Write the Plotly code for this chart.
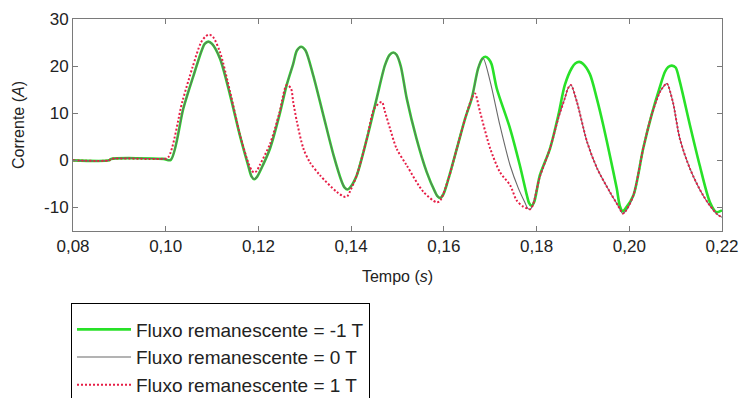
import plotly.graph_objects as go

# ---- data ----
t_green = [0.080, 0.0878, 0.0882, 0.0995, 0.1011,
           0.1038, 0.1060, 0.1078, 0.1084, 0.1092, 0.1100,
           0.1117, 0.1139, 0.1160, 0.1178, 0.1185, 0.1191, 0.1197,
           0.1205, 0.1225, 0.1245, 0.1261, 0.1275, 0.1283, 0.1292, 0.1301,
           0.1318, 0.1340, 0.1362, 0.1380, 0.1386, 0.1392, 0.1399,
           0.1412, 0.1434, 0.1455, 0.1473, 0.1483, 0.1491, 0.1498,
           0.1507, 0.1520, 0.1541, 0.1563, 0.1581, 0.1586, 0.1592, 0.1599,
           0.1610, 0.1628, 0.1646, 0.1660, 0.1674, 0.1683, 0.1690, 0.1697,
           0.1703, 0.1714, 0.1743, 0.1764, 0.1779, 0.1784, 0.1789, 0.1795,
           0.1807, 0.1829, 0.1847, 0.1861, 0.1876, 0.1884, 0.1892, 0.1900,
           0.1915, 0.1930, 0.1944, 0.1958, 0.1973, 0.1980, 0.1986, 0.1992,
           0.2009, 0.2030, 0.2048, 0.2066, 0.2077, 0.2084, 0.2092, 0.2100,
           0.2109, 0.2131, 0.2152, 0.2174, 0.2188, 0.2200]
i_green = [0, 0, 0.3, 0.3, 0.1,
           11.0, 18.0, 23.4, 24.7, 25.2, 24.7,
           21.6, 13.8, 5.3, -1.1, -3.4, -4.0, -3.5,
           -2.0, 2.5, 9.5, 16.0, 20.5, 23.3, 24.1, 23.4,
           18.1, 9.6, 1.1, -4.6, -5.8, -6.2, -5.6,
           -3.2, 4.6, 13.1, 20.2, 22.4, 22.9, 22.4,
           20.0, 13.1, 4.6, -2.5, -6.7, -7.6, -8.0, -7.2,
           -3.9, 2.5, 8.9, 13.1, 19.5, 21.6, 22.0, 21.5,
           20.4, 15.3, 6.7, -1.1, -7.4, -9.1, -9.7, -8.8,
           -3.2, 2.5, 9.6, 16.0, 19.6, 20.6, 20.9, 20.5,
           18.3, 13.1, 7.4, 1.1, -6.0, -9.8, -10.8, -10.2,
           -7.4, 2.5, 9.6, 15.6, 18.8, 19.8, 20.1, 19.7,
           16.7, 7.4, -1.1, -8.9, -11.0, -10.6]

t_gray = [0.080, 0.0878, 0.0882, 0.0995, 0.1011,
          0.1038, 0.1060, 0.1078, 0.1084, 0.1092, 0.1100,
          0.1117, 0.1139, 0.1160, 0.1178, 0.1185, 0.1191, 0.1197,
          0.1205, 0.1225, 0.1245, 0.1261, 0.1275, 0.1283, 0.1292, 0.1301,
          0.1318, 0.1340, 0.1362, 0.1380, 0.1386, 0.1392, 0.1399,
          0.1412, 0.1434, 0.1455, 0.1473, 0.1483, 0.1491, 0.1498,
          0.1507, 0.1520, 0.1541, 0.1563, 0.1581, 0.1586, 0.1592, 0.1599,
          0.1610, 0.1628, 0.1646, 0.1660, 0.1674, 0.1680, 0.1685,
          0.1700, 0.1721, 0.1743, 0.1761, 0.1775, 0.1781, 0.1786, 0.1792,
          0.1807, 0.1829, 0.1847, 0.1861, 0.1868, 0.1874,
          0.1887, 0.1909, 0.1931, 0.1958, 0.1975, 0.1981, 0.1986, 0.1992,
          0.2009, 0.2030, 0.2048, 0.2066, 0.2075, 0.2081,
          0.2094, 0.2109, 0.2131, 0.2159, 0.2188, 0.2200]
i_gray = [0, 0, 0.3, 0.3, 0.1,
          11.0, 18.0, 23.4, 24.7, 25.2, 24.7,
          21.6, 13.8, 5.3, -1.1, -3.4, -4.0, -3.5,
          -2.0, 2.5, 9.5, 16.0, 20.5, 23.3, 24.1, 23.4,
          18.1, 9.6, 1.1, -4.6, -5.8, -6.2, -5.6,
          -3.2, 4.6, 13.1, 20.2, 22.4, 22.9, 22.4,
          20.0, 13.1, 4.6, -2.5, -6.7, -7.6, -8.0, -7.2,
          -3.9, 2.5, 8.9, 13.1, 19.5, 21.2, 21.6,
          16.7, 7.4, -1.1, -6.0, -9.0, -10.2, -10.4, -9.5,
          -3.5, 2.5, 9.0, 13.2, 15.3, 16.0,
          12.4, 3.9, -1.8, -6.7, -9.5, -10.6, -11.3, -10.8,
          -7.4, 2.5, 9.6, 14.5, 15.8, 16.3,
          12.4, 4.6, -1.8, -7.4, -11.3, -12.1]

t_red = [0.080, 0.0878, 0.0882, 0.0990, 0.1005,
         0.1036, 0.1058, 0.1076, 0.1086, 0.1094, 0.1102,
         0.1117, 0.1139, 0.1160, 0.1178, 0.1186, 0.1191, 0.1196,
         0.1203, 0.1225, 0.1245, 0.1261, 0.1270,
         0.1275, 0.1283, 0.1297, 0.1311, 0.1333, 0.1369, 0.1387, 0.1392,
         0.1398, 0.1412, 0.1434, 0.1450, 0.1466,
         0.1473, 0.1484, 0.1498, 0.1520, 0.1556, 0.1584, 0.1591,
         0.1610, 0.1628, 0.1646, 0.1660, 0.1667,
         0.1678, 0.1700, 0.1721, 0.1743, 0.1757, 0.1772, 0.1781, 0.1786, 0.1792,
         0.1807, 0.1829, 0.1847, 0.1861, 0.1868, 0.1874,
         0.1887, 0.1909, 0.1931, 0.1958, 0.1975, 0.1981, 0.1986, 0.1992,
         0.2009, 0.2030, 0.2048, 0.2066, 0.2075, 0.2081,
         0.2094, 0.2109, 0.2131, 0.2159, 0.2188, 0.2200]
i_red = [0, 0, 0.3, 0.3, 0.6,
         12.5, 19.8, 25.0, 26.3, 26.7, 26.2,
         23.0, 14.5, 5.5, -0.5, -2.2, -2.6, -2.3,
         -1.0, 3.5, 10.0, 16.0, 15.3,
         12.4, 8.2, 2.5, -0.4, -3.2, -6.7, -7.8, -7.6,
         -6.5, -3.2, 4.6, 11.0, 12.4,
         10.3, 6.7, 2.5, -1.1, -6.7, -8.9, -8.7,
         -3.9, 2.5, 8.9, 13.1, 14.2,
         10.3, 2.5, -2.5, -5.3, -8.5, -9.9, -10.2, -10.4, -9.5,
         -3.5, 2.5, 9.0, 13.2, 15.3, 16.0,
         12.4, 3.9, -1.8, -6.7, -9.5, -10.6, -11.3, -10.8,
         -7.4, 2.5, 9.6, 14.5, 15.8, 16.3,
         12.4, 4.6, -1.8, -7.4, -11.3, -12.1]

series_names = ["Fluxo remanescente = -1 T",
                "Fluxo remanescente = 0 T",
                "Fluxo remanescente = 1 T"]

x_ticks = [0.08, 0.10, 0.12, 0.14, 0.16, 0.18, 0.20, 0.22]
x_labels = ["0,08", "0,10", "0,12", "0,14", "0,16", "0,18", "0,20", "0,22"]
y_ticks = [-10, 0, 10, 20, 30]
y_labels = ["-10", "0", "10", "20", "30"]

FONT = "Liberation Sans, Arial, sans-serif"
TXT = "#222"

fig = go.Figure()
fig.add_trace(go.Scatter(x=t_green, y=i_green, mode="lines", name=series_names[0],
                         line=dict(color="rgb(40,225,40)", width=2.6, shape="spline", smoothing=0.8)))
fig.add_trace(go.Scatter(x=t_gray, y=i_gray, mode="lines", name=series_names[1],
                         line=dict(color="rgb(105,105,105)", width=1.1, shape="spline", smoothing=0.8)))
fig.add_trace(go.Scatter(x=t_red, y=i_red, mode="lines", name=series_names[2],
                         line=dict(color="rgb(230,30,70)", width=2, dash="2px,2px",
                                   shape="spline", smoothing=0.8)))

axis_common = dict(showgrid=False, zeroline=False, showline=True, linecolor="#7a7a7a",
                   linewidth=1, mirror="ticks", ticks="inside", ticklen=5,
                   tickcolor="#7a7a7a", automargin=False,
                   tickfont=dict(size=17, color=TXT, family=FONT))

fig.update_xaxes(range=[0.08, 0.22], tickvals=x_ticks, ticktext=x_labels,
                 title=dict(text="Tempo (<i>s</i>)", font=dict(size=16, color=TXT, family=FONT)),
                 **axis_common)
fig.update_yaxes(range=[-15, 30], tickvals=y_ticks, ticktext=y_labels, **axis_common)

# y-axis title as a rotated annotation, left of the tick labels
fig.add_annotation(text="Corrente (<i>A</i>)", xref="paper", yref="paper",
                   x=(18 - 73) / 649, y=0.5, xanchor="center", yanchor="middle",
                   textangle=-90, showarrow=False,
                   font=dict(size=16, color=TXT, family=FONT))

fig.update_layout(
    width=739, height=398,
    margin=dict(l=73, r=17, t=19, b=167, autoexpand=False),
    paper_bgcolor="white", plot_bgcolor="white",
    font=dict(family=FONT, color=TXT),
    showlegend=True,
    legend=dict(xref="container", yref="container", x=71 / 739, y=1 - 303 / 398,
                xanchor="left", yanchor="top",
                bordercolor="black", borderwidth=1, bgcolor="white",
                font=dict(size=19, color=TXT, family=FONT),
                itemwidth=54,
                title=dict(text=" ", font=dict(size=5))),
)

fig.write_html("out.html")
